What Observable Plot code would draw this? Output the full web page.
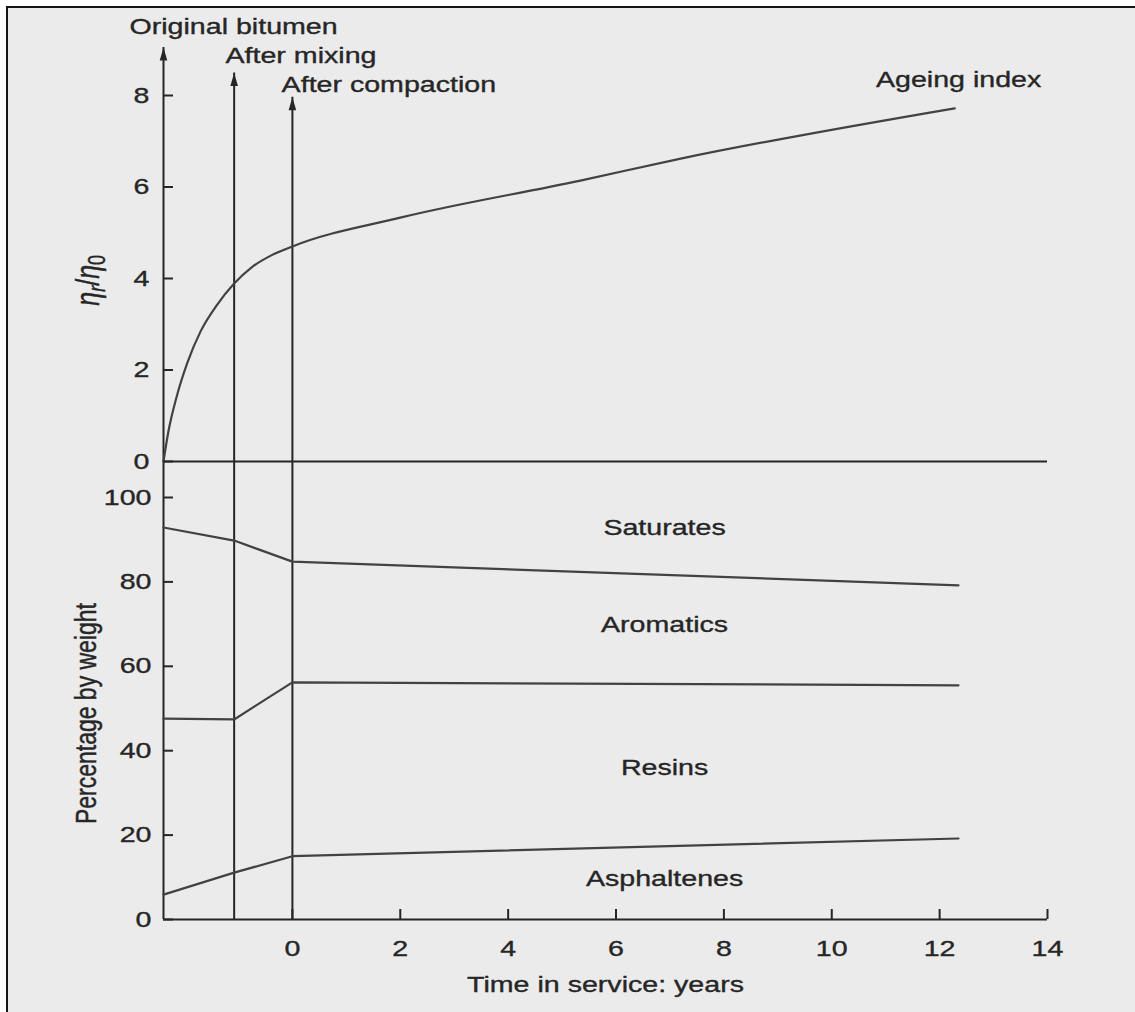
<!DOCTYPE html>
<html>
<head>
<meta charset="utf-8">
<script src="https://cdn.jsdelivr.net/npm/d3@7"></script>
<script src="https://cdn.jsdelivr.net/npm/@observablehq/plot@0.6"></script>
<style>
  html, body { margin: 0; padding: 0; background: #ffffff; }
  #page { position: relative; width: 1135px; height: 1012px; overflow: hidden; background: #ffffff; }
  #sheet { position: absolute; left: 6px; top: 6px; right: 0; bottom: 0; background: #ebebeb;
           border-left: 2px solid #141414; border-top: 2px solid #141414; }
  #ageing, #composition { position: absolute; left: 0; }
  #ageing { top: 0; }
  #composition { top: 480px; }
  #page svg text { stroke: #262626; stroke-width: 0.35px; }
</style>
</head>
<body>
<div id="page">
  <div id="sheet"></div>
  <div id="ageing"></div>
  <div id="composition"></div>
</div>
<script>
// ---- Tick values ----
const yearTicks = [0, 2, 4, 6, 8, 10, 12, 14];
const ageingTicks = [0, 2, 4, 6, 8];
const percentTicks = [0, 20, 40, 60, 80, 100];

// ---- Process stages (years before the road opens are negative) ----
const stageNames = ["Original bitumen", "After mixing", "After compaction"];
const stageYears = [-2.39, -1.08, 0];
const stageArrowTips = [9.05, 8.49, 7.96];       // on the η scale
const stageLabelYears = [-3.02, -1.24, -0.20];
const stageLabelLevels = [9.5, 8.87, 8.22];

// ---- Ageing index ηr/η0 against time ----
const ageingYears = [-2.39, -2.30, -2.15, -1.95, -1.70, -1.40, -1.08, -0.75, -0.40, 0, 2.0, 5.34, 7.2, 12.28];
const ageingIndex = [0, 0.65, 1.40, 2.15, 2.85, 3.42, 3.89, 4.25, 4.50, 4.70, 5.33, 6.14, 6.62, 7.72];
const ageingLabel = "Ageing index";
const ageingLabelAt = [10.82, 8.33];

// ---- Chemical composition, cumulative % by weight ----
const fractionYears = [-2.39, -1.08, 0, 12.35];
const saturatesLower = [92.9, 89.8, 84.8, 79.2];   // boundary saturates / aromatics
const aromaticsLower = [47.6, 47.4, 56.2, 55.5];   // boundary aromatics / resins
const resinsLower = [5.9, 11.1, 15.0, 19.2];       // boundary resins / asphaltenes
const fractionNames = ["Saturates", "Aromatics", "Resins", "Asphaltenes"];
const fractionLabelLevels = [92.9, 69.7, 36.0, 9.7];
const fractionLabelYear = 6.9;

// ---- Styling ----
const FONT = '"Liberation Sans", Arial, Helvetica, sans-serif';
const INK = "#262626";
const LINE = "#424242";
const STRETCH = 1.3;       // wide lettering of the printed figure
const ETA_LABEL = "ηr/η0";
const TICK = 10;           // inward tick length, px

// ---- Layout ----
const WIDTH = 1135, MARGIN_LEFT = 163, MARGIN_RIGHT = 88;
const topPanel = {height: 480, marginTop: 95, marginBottom: 19};
const bottomPanel = {height: 532, marginTop: 17, marginBottom: 93};
const frameWidth = WIDTH - MARGIN_LEFT - MARGIN_RIGHT;
const bottomFrameHeight = bottomPanel.height - bottomPanel.marginTop - bottomPanel.marginBottom;
const topFrameHeight = topPanel.height - topPanel.marginTop - topPanel.marginBottom;

// the stage axes run on through the gap between the two panels
const topFloor = -topPanel.marginBottom / (topFrameHeight / 8);
const bottomCeiling = 100 + bottomPanel.marginTop / (bottomFrameHeight / 100);

// ---- Tables ----
const stages = stageNames.map((name, i) => ({
  name, year: stageYears[i], tip: stageArrowTips[i],
  labelYear: stageLabelYears[i], labelLevel: stageLabelLevels[i]
}));
const ageing = ageingYears.map((year, i) => ({year, value: ageingIndex[i]}));
const boundaries = [
  ["saturates", saturatesLower],
  ["aromatics", aromaticsLower],
  ["resins", resinsLower]
].flatMap(([key, values]) => values.map((value, i) => ({key, year: fractionYears[i], value})));

// narrow solid arrowhead, tip at the anchor point
const arrowHead = {
  draw(context) {
    context.moveTo(0, 0);
    context.lineTo(3.8, 13);
    context.lineTo(-3.8, 13);
    context.closePath();
  }
};

const xScale = {domain: [stageYears[0], 14]};
const style = {background: "transparent", color: INK, fontFamily: FONT, fontSize: "22px"};

// ticks pointing into the plot from the left axis
const leftTicks = (values) =>
  Plot.tickY(values, {y: (d) => d, insetRight: frameWidth - TICK, stroke: INK, strokeWidth: 2});

const ageingChart = Plot.plot({
  width: WIDTH, height: topPanel.height,
  marginLeft: MARGIN_LEFT, marginRight: MARGIN_RIGHT,
  marginTop: topPanel.marginTop, marginBottom: topPanel.marginBottom,
  style,
  x: {...xScale, axis: null},
  y: {domain: [0, 8]},
  marks: [
    Plot.ruleY([0], {stroke: INK, strokeWidth: 2}),
    Plot.ruleX(stages, {x: "year", y1: topFloor, y2: "tip", stroke: INK, strokeWidth: 2}),
    Plot.dot(stages, {x: "year", y: "tip", symbol: arrowHead, fill: INK, stroke: "none"}),
    Plot.line(ageing, {x: "year", y: "value", curve: "monotone-x", stroke: LINE, strokeWidth: 2.2}),
    leftTicks(ageingTicks),
    Plot.axisY({ticks: ageingTicks, tickSize: 0, tickPadding: 14, fontSize: 22, label: null}),
    Plot.text(stages, {x: "labelYear", y: "labelLevel", text: "name", textAnchor: "start", fill: INK, fontSize: 22}),
    Plot.text([ageingLabel], {x: ageingLabelAt[0], y: ageingLabelAt[1], text: (d) => d, textAnchor: "start", fill: INK, fontSize: 22}),
    Plot.text([ETA_LABEL], {frameAnchor: "left", y: 3.96, dx: -75, rotate: -90, textAnchor: "middle", text: (d) => d, fill: INK, fontSize: 25})
  ]
});

const compositionChart = Plot.plot({
  width: WIDTH, height: bottomPanel.height,
  marginLeft: MARGIN_LEFT, marginRight: MARGIN_RIGHT,
  marginTop: bottomPanel.marginTop, marginBottom: bottomPanel.marginBottom,
  style,
  x: xScale,
  y: {domain: [0, 100]},
  marks: [
    Plot.ruleY([0], {stroke: INK, strokeWidth: 2}),
    Plot.ruleX(stages, {x: "year", y1: 0, y2: bottomCeiling, stroke: INK, strokeWidth: 2}),
    Plot.line(boundaries, {x: "year", y: "value", z: "key", stroke: LINE, strokeWidth: 2.2}),
    Plot.tickX(yearTicks, {x: (d) => d, insetTop: bottomFrameHeight - TICK, stroke: INK, strokeWidth: 2}),
    Plot.axisX({ticks: yearTicks, tickSize: 0, tickPadding: 21, fontSize: 22, label: null}),
    leftTicks(percentTicks),
    Plot.axisY({ticks: percentTicks, tickSize: 0, tickPadding: 12, fontSize: 22, label: null}),
    Plot.text(fractionNames, {x: fractionLabelYear, y: fractionLabelLevels, text: (d) => d, fill: INK, fontSize: 22}),
    Plot.text(["Percentage by weight"], {frameAnchor: "left", y: 48.8, dx: -77, rotate: -90, textAnchor: "middle", text: (d) => d, fill: INK, fontSize: 23}),
    Plot.text(["Time in service: years"], {frameAnchor: "bottom", dy: 72, textAnchor: "middle", text: (d) => d, fill: INK, fontSize: 22})
  ]
});

// widen the lettering; rotated labels widen across their baseline
function stretchText(svg) {
  svg.querySelectorAll("text").forEach((t) => {
    let tr = t.getAttribute("transform");
    if (!tr) {
      const x = +t.getAttribute("x") || 0, y = +t.getAttribute("y") || 0;
      t.removeAttribute("x");
      t.removeAttribute("y");
      tr = `translate(${x},${y})`;
    }
    t.setAttribute("transform", tr + (/rotate/.test(tr) ? ` scale(1,${STRETCH})` : ` scale(${STRETCH},1)`));
  });
}

// ηr/η0 with italic eta and subscripts
function setEtaLabel(svg) {
  svg.querySelectorAll("text").forEach((t) => {
    if (t.textContent !== ETA_LABEL) return;
    t.textContent = "";
    const parts = [
      ["η", "italic", null],
      ["r", "italic", "sub"],
      ["/", "normal", null],
      ["η", "italic", null],
      ["0", "normal", "sub"]
    ];
    for (const [s, fontStyle, shift] of parts) {
      const ts = document.createElementNS("http://www.w3.org/2000/svg", "tspan");
      ts.textContent = s;
      ts.setAttribute("font-style", fontStyle);
      if (shift) {
        ts.setAttribute("baseline-shift", "-22%");
        ts.setAttribute("font-size", "72%");
      }
      t.appendChild(ts);
    }
  });
}

for (const svg of [ageingChart, compositionChart]) {
  setEtaLabel(svg);
  stretchText(svg);
}

document.getElementById("ageing").appendChild(ageingChart);
document.getElementById("composition").appendChild(compositionChart);
</script>
</body>
</html>
